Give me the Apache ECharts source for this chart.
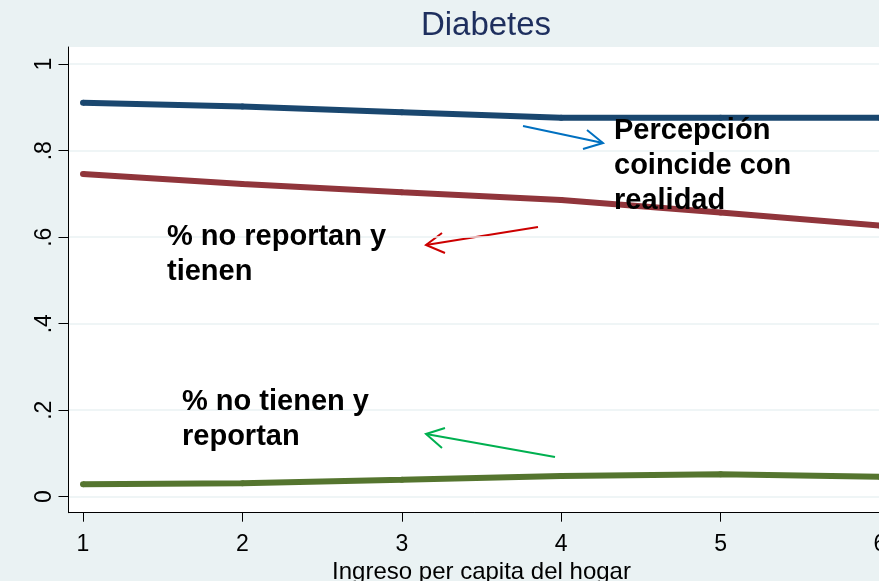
<!DOCTYPE html>
<html>
<head>
<meta charset="utf-8">
<script src="https://cdn.jsdelivr.net/npm/echarts@6/dist/echarts.min.js"></script>
<style>
  html, body { margin: 0; padding: 0; background: #eaf2f3; }
  #chart { width: 879px; height: 581px; }
</style>
</head>
<body>
<div id="chart"></div>
<script>
  // datos (Stata)
  var ingreso = [1, 2, 3, 4, 5, 6];
  var coincide = [0.911, 0.902, 0.889, 0.876, 0.876, 0.876];
  var noReportanTienen = [0.746, 0.723, 0.704, 0.686, 0.657, 0.627];
  var noTienenReportan = [0.029, 0.031, 0.039, 0.048, 0.052, 0.046];
  var yTicks = [0, 0.2, 0.4, 0.6, 0.8, 1];
  var yTickLabels = ['0', '.2', '.4', '.6', '.8', '1'];

  var FONT = '"Liberation Sans", Arial, sans-serif';

  function pares(ys) {
    return ingreso.map(function (x, i) { return [x, ys[i]]; });
  }

  function linea(name, color, ys) {
    return {
      name: name,
      type: 'line',
      data: pares(ys),
      symbol: 'circle',
      symbolSize: 6,
      showSymbol: true,
      itemStyle: { color: color },
      lineStyle: { color: color, width: 6 },
      animation: false
    };
  }

  var myChart = echarts.init(document.getElementById('chart'));

  var option = {
    backgroundColor: '#eaf2f3',
    title: {
      text: 'Diabetes',
      left: 481,
      top: 4,
      textAlign: 'center',
      textStyle: { fontFamily: FONT, fontSize: 33, fontWeight: 'normal', color: '#1e2f5e' }
    },
    grid: {
      left: 68.5,
      top: 47,
      width: 826,
      height: 465.7,
      outerBoundsMode: 'none',
      containLabel: false,
      show: true,
      backgroundColor: '#ffffff',
      borderWidth: 0
    },
    xAxis: {
      type: 'value',
      min: 0.909,
      max: 6.091,
      name: 'Ingreso per capita del hogar',
      nameLocation: 'middle',
      nameGap: 46,
      nameTextStyle: { fontFamily: FONT, fontSize: 24, color: '#000' },
      axisLine: { show: true, onZero: false, lineStyle: { color: '#000', width: 1 } },
      axisTick: { show: true, length: 9, customValues: ingreso, lineStyle: { color: '#000' } },
      axisLabel: { customValues: ingreso, margin: 20, fontFamily: FONT, fontSize: 23, color: '#000' },
      splitLine: { show: false }
    },
    yAxis: {
      type: 'value',
      min: -0.037,
      max: 1.0398,
      axisLine: { show: true, onZero: false, lineStyle: { color: '#000', width: 1 } },
      axisTick: { show: true, length: 10, customValues: yTicks, lineStyle: { color: '#000' } },
      axisLabel: {
        customValues: yTicks,
        rotate: 90,
        margin: 12,
        fontFamily: FONT,
        fontSize: 23,
        color: '#000',
        formatter: function (v) {
          return yTickLabels[yTicks.indexOf(v)];
        }
      },
      splitLine: { show: true, lineStyle: { color: '#eaf2f3', width: 1.5 } }
    },
    graphic: [
      { type: 'polyline', shape: { points: [[523, 126], [603, 143]] }, style: { stroke: '#0070c0', lineWidth: 2, fill: null } },
      { type: 'polyline', shape: { points: [[587, 130], [603, 143], [583, 149]] }, style: { stroke: '#0070c0', lineWidth: 2, fill: null } },
      { type: 'polyline', shape: { points: [[538, 227], [426, 245]] }, style: { stroke: '#cc0000', lineWidth: 2, fill: null } },
      { type: 'polyline', shape: { points: [[442, 233], [426, 245], [445, 253]] }, style: { stroke: '#cc0000', lineWidth: 2, fill: null } },
      { type: 'polyline', shape: { points: [[555, 457], [426, 434]] }, style: { stroke: '#00b050', lineWidth: 2, fill: null } },
      { type: 'polyline', shape: { points: [[445, 428], [426, 434], [442, 448]] }, style: { stroke: '#00b050', lineWidth: 2, fill: null } },
      {
        type: 'text', x: 614, y: 113.5, z: 100,
        style: { text: 'Percepción\ncoincide con\nrealidad', fill: '#000', font: 'bold 29px ' + FONT, lineHeight: 35, verticalAlign: 'top' }
      },
      {
        type: 'text', x: 167, y: 219.5, z: 100,
        style: { text: '% no reportan y\ntienen', fill: '#000', font: 'bold 29px ' + FONT, lineHeight: 35, verticalAlign: 'top' }
      },
      {
        type: 'text', x: 182, y: 384.5, z: 100,
        style: { text: '% no tienen y\nreportan', fill: '#000', font: 'bold 29px ' + FONT, lineHeight: 35, verticalAlign: 'top' }
      }
    ],
    series: [
      linea('Percepción coincide con realidad', '#1a476f', coincide),
      linea('% no reportan y tienen', '#90353b', noReportanTienen),
      linea('% no tienen y reportan', '#55752f', noTienenReportan)
    ]
  };
  myChart.setOption(option);
</script>
</body>
</html>
